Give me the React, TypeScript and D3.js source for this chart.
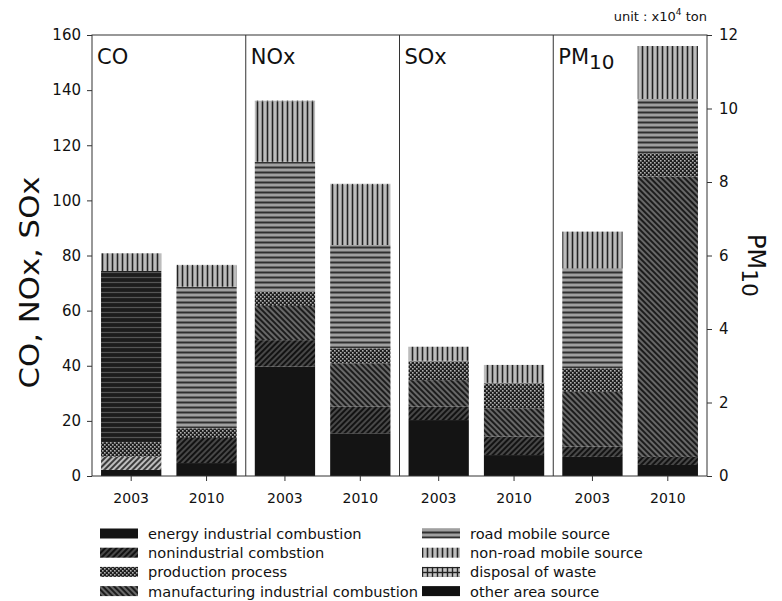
import React, { useRef, useEffect } from 'react';
import * as d3 from 'd3';

// panels and years
const pollutants = ['CO', 'NOx', 'SOx', 'PM10'];
const years = ['2003', '2010'];

// emission sources in stacking order (bottom -> top)
const sourceKeys = ['energy', 'nonind', 'manuf', 'prod', 'road', 'nonroad', 'disposal', 'other'];
const sourceLabels: Record<string, string> = {
  energy: 'energy industrial combustion',
  nonind: 'nonindustrial combstion',
  prod: 'production process',
  manuf: 'manufacturing industrial combustion',
  road: 'road mobile source',
  nonroad: 'non-road mobile source',
  disposal: 'disposal of waste',
  other: 'other area source',
};
const legendCol1 = ['energy', 'nonind', 'prod', 'manuf'];
const legendCol2 = ['road', 'nonroad', 'disposal', 'other'];

// values per bar: CO03, CO10, NOx03, NOx10, SOx03, SOx10, PM03, PM10 (x10^4 ton)
const energyIndustrial = [2.2, 4.7, 39.7, 15.5, 20.3, 7.6, 0.52, 0.3];
const nonindustrial = [4.8, 9.1, 9.6, 9.7, 4.9, 6.7, 0.28, 0.22];
const manufacturing = [0, 0, 12.4, 15.7, 9.6, 10.3, 1.49, 7.63];
const production = [5.3, 3.5, 5.2, 5.4, 6.7, 9.0, 0.64, 0.63];
const roadMobile = [62.1, 51.4, 47.1, 37.5, 0.3, 0.2, 2.72, 1.48];
const nonRoadMobile = [6.4, 7.5, 21.8, 21.8, 5.1, 6.5, 1.0, 1.44];
const disposalWaste = [0, 0.4, 0.4, 0.4, 0, 0, 0, 0];
const otherArea = [0, 0, 0, 0, 0, 0, 0, 0];

const leftTicks = [0, 20, 40, 60, 80, 100, 120, 140, 160];
const rightTicks = [0, 2, 4, 6, 8, 10, 12];

// a couple of bars were printed with a different shade of the same hatch
const patternOverride: Record<string, string> = {
  'CO|2003|road': 'roadDark',
  'CO|2003|nonind': 'nonindLight',
};

const FONT = "'DejaVu Sans', 'Liberation Sans', Arial, sans-serif";

const App: React.FC = () => {
  const svgRef = useRef<SVGSVGElement>(null);

  useEffect(() => {
    if (!svgRef.current) return;
    const svg = d3.select(svgRef.current);
    svg.selectAll('*').remove();

    const width = 782;
    const height = 601;
    const margin = { top: 35, right: 75, bottom: 125, left: 92 };
    const plotRight = width - margin.right;
    const plotBottom = height - margin.bottom;

    svg.attr('width', width).attr('height', height);

    // patterns
    const defs = svg.append('defs');
    const hatch = (id: string, bg: string, fg: string, gap: number, sw: number, angle: number) => {
      const p = defs
        .append('pattern')
        .attr('id', id)
        .attr('patternUnits', 'userSpaceOnUse')
        .attr('width', gap)
        .attr('height', gap)
        .attr('patternTransform', `rotate(${angle})`);
      p.append('rect').attr('width', gap).attr('height', gap).attr('fill', bg);
      p.append('line')
        .attr('x1', gap / 2)
        .attr('x2', gap / 2)
        .attr('y1', 0)
        .attr('y2', gap)
        .attr('stroke', fg)
        .attr('stroke-width', sw);
    };
    hatch('nonind', '#484848', '#121212', 4, 2, 45);
    hatch('nonindLight', '#bdbdbd', '#3a3a3a', 4, 2, 45);
    hatch('manuf', '#707070', '#1c1c1c', 4, 2.2, -45);
    hatch('nonroad', '#bcbcbc', '#222', 5, 1.6, 0);
    hatch('road', '#a0a0a0', '#303030', 5, 2, 90);
    hatch('roadDark', '#1c1c1c', '#555', 5, 1.2, 90);

    const dots = defs
      .append('pattern')
      .attr('id', 'prod')
      .attr('patternUnits', 'userSpaceOnUse')
      .attr('width', 4)
      .attr('height', 4);
    dots.append('rect').attr('width', 4).attr('height', 4).attr('fill', '#1e1e1e');
    dots.append('rect').attr('x', 0).attr('y', 0).attr('width', 1.6).attr('height', 1.6).attr('fill', '#b0b0b0');
    dots.append('rect').attr('x', 2).attr('y', 2).attr('width', 1.6).attr('height', 1.6).attr('fill', '#b0b0b0');

    const grid = defs
      .append('pattern')
      .attr('id', 'disposal')
      .attr('patternUnits', 'userSpaceOnUse')
      .attr('width', 5)
      .attr('height', 5);
    grid.append('rect').attr('width', 5).attr('height', 5).attr('fill', '#c4c4c4');
    grid.append('line').attr('x1', 2.5).attr('x2', 2.5).attr('y1', 0).attr('y2', 5).attr('stroke', '#222').attr('stroke-width', 1.4);
    grid.append('line').attr('x1', 0).attr('x2', 5).attr('y1', 2.5).attr('y2', 2.5).attr('stroke', '#222').attr('stroke-width', 1.4);

    const fillFor = (key: string) => {
      if (key === 'energy') return '#141414';
      if (key === 'other') return '#111';
      return `url(#${key})`;
    };

    // scales
    const xPanel = d3.scaleBand<string>().domain(pollutants).range([margin.left, plotRight]);
    const xYear = d3
      .scaleBand<string>()
      .domain(years)
      .range([0, xPanel.bandwidth()])
      .paddingInner(0.2)
      .paddingOuter(0.12);
    const yLeft = d3.scaleLinear().domain([0, 160]).range([plotBottom, margin.top]);
    const yRight = d3.scaleLinear().domain([0, 12]).range([plotBottom, margin.top]);

    // table of bars
    const series = [energyIndustrial, nonindustrial, manufacturing, production, roadMobile, nonRoadMobile, disposalWaste, otherArea];
    const rows: any[] = [];
    pollutants.forEach((p, pi) => {
      years.forEach((yr, yi) => {
        const row: any = { pollutant: p, year: yr };
        sourceKeys.forEach((k, ki) => (row[k] = series[ki][pi * 2 + yi]));
        rows.push(row);
      });
    });
    const stacked = d3.stack<any>().keys(sourceKeys)(rows);

    const bars = svg.append('g');
    stacked.forEach((layer) => {
      const key = layer.key;
      layer.forEach((seg) => {
        const d = seg.data;
        const y = d.pollutant === 'PM10' ? yRight : yLeft;
        if (seg[1] - seg[0] <= 0) return;
        const override = patternOverride[`${d.pollutant}|${d.year}|${key}`];
        bars
          .append('rect')
          .attr('x', xPanel(d.pollutant)! + xYear(d.year)!)
          .attr('width', xYear.bandwidth())
          .attr('y', y(seg[1]))
          .attr('height', y(seg[0]) - y(seg[1]))
          .attr('fill', override ? `url(#${override})` : fillFor(key));
      });
    });

    // frame and panel dividers
    const axisColor = '#333';
    svg
      .append('rect')
      .attr('x', margin.left)
      .attr('y', margin.top)
      .attr('width', plotRight - margin.left)
      .attr('height', plotBottom - margin.top)
      .attr('fill', 'none')
      .attr('stroke', axisColor)
      .attr('stroke-width', 1);
    pollutants.slice(1).forEach((p) => {
      svg
        .append('line')
        .attr('x1', xPanel(p)!)
        .attr('x2', xPanel(p)!)
        .attr('y1', margin.top)
        .attr('y2', plotBottom)
        .attr('stroke', axisColor)
        .attr('stroke-width', 1);
    });

    const styleAxis = (g: any, size: number) => {
      g.select('.domain').remove();
      g.selectAll('line').attr('stroke', axisColor);
      g.selectAll('text').attr('font-family', FONT).attr('font-size', size).attr('fill', '#111');
    };

    svg
      .append('g')
      .attr('transform', `translate(${margin.left},0)`)
      .call(d3.axisLeft(yLeft).tickValues(leftTicks).tickSize(5).tickPadding(6))
      .call((g) => styleAxis(g, 15));

    svg
      .append('g')
      .attr('transform', `translate(${plotRight},0)`)
      .call(d3.axisRight(yRight).tickValues(rightTicks).tickSize(5).tickPadding(7))
      .call((g) => styleAxis(g, 15));

    // year ticks under each bar
    const xTicks = svg.append('g');
    pollutants.forEach((p) => {
      years.forEach((yr) => {
        const cx = xPanel(p)! + xYear(yr)! + xYear.bandwidth() / 2;
        xTicks
          .append('line')
          .attr('x1', cx)
          .attr('x2', cx)
          .attr('y1', plotBottom)
          .attr('y2', plotBottom + 5)
          .attr('stroke', axisColor);
        xTicks
          .append('text')
          .attr('x', cx)
          .attr('y', plotBottom + 27)
          .attr('text-anchor', 'middle')
          .attr('font-family', FONT)
          .attr('font-size', 14)
          .attr('fill', '#111')
          .text(yr);
      });
    });

    // panel labels
    pollutants.forEach((p) => {
      const t = svg
        .append('text')
        .attr('x', xPanel(p)! + 5)
        .attr('y', 64)
        .attr('font-family', FONT)
        .attr('font-size', 21)
        .attr('fill', '#111');
      if (p === 'PM10') {
        t.append('tspan').text('PM');
        t.append('tspan').attr('dy', 5).attr('font-size', 20).text('10');
      } else {
        t.text(p);
      }
    });

    // axis titles
    svg
      .append('text')
      .attr('transform', `translate(39,${(margin.top + plotBottom) / 2 + 27}) rotate(-90)`)
      .attr('text-anchor', 'middle')
      .attr('font-family', FONT)
      .attr('font-size', 26)
      .attr('textLength', 212)
      .attr('lengthAdjust', 'spacingAndGlyphs')
      .attr('fill', '#111')
      .text('CO, NOx, SOx');

    const rt = svg
      .append('text')
      .attr('transform', `translate(748,${(margin.top + plotBottom) / 2 + 10}) rotate(90)`)
      .attr('text-anchor', 'middle')
      .attr('font-family', FONT)
      .attr('font-size', 24)
      .attr('fill', '#111');
    rt.append('tspan').text('PM');
    rt.append('tspan').attr('dy', 6).attr('font-size', 22).text('10');

    // unit note
    const unit = svg
      .append('text')
      .attr('x', plotRight)
      .attr('y', 21)
      .attr('text-anchor', 'end')
      .attr('font-family', FONT)
      .attr('font-size', 13)
      .attr('fill', '#111');
    unit.append('tspan').text('unit : x10');
    unit.append('tspan').attr('dy', -6).attr('font-size', 9).text('4');
    unit.append('tspan').attr('dy', 6).text(' ton');

    // legend
    const legend = svg.append('g');
    const rowY = (i: number) => 533.5 + i * 19.2;
    [legendCol1, legendCol2].forEach((col, ci) => {
      const x0 = ci === 0 ? 100 : 422;
      col.forEach((key, i) => {
        legend
          .append('rect')
          .attr('x', x0)
          .attr('y', rowY(i) - 5)
          .attr('width', 38)
          .attr('height', 10)
          .attr('fill', fillFor(key));
        legend
          .append('text')
          .attr('x', x0 + 48)
          .attr('y', rowY(i) + 5.5)
          .attr('font-family', FONT)
          .attr('font-size', 14.6)
          .attr('fill', '#111')
          .text(sourceLabels[key]);
      });
    });
  }, []);

  return (
    <div style={{ position: 'absolute', left: 0, top: 0 }}>
      <svg ref={svgRef} style={{ display: 'block', background: '#fff' }}></svg>
    </div>
  );
};

export default App;
